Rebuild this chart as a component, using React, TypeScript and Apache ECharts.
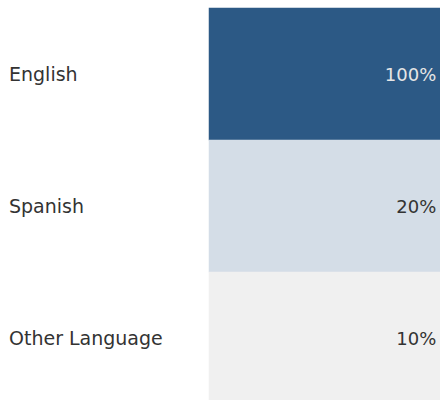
import React, { useEffect, useRef } from "react";
import * as echarts from "echarts";

const languages = ["English", "Spanish", "Other Language"];
const shares = [100, 20, 10];
const cellColors = ["#2c5985", "#d4dde7", "#f0f0f0"];
const labelColors = ["#e6e6e6", "#333333", "#333333"];

export default function App() {
  const ref = useRef<HTMLDivElement>(null);
  useEffect(() => {
    const chart = echarts.init(ref.current!, null, { renderer: "svg" });
    const font = "DejaVu Sans";
    chart.setOption({
      animation: false,
      grid: {
        left: 209,
        right: 0,
        top: 8,
        height: 396,
        outerBoundsMode: "none",
        containLabel: false,
      },
      xAxis: {
        type: "category",
        data: ["Share"],
        show: false,
      },
      yAxis: {
        type: "category",
        data: languages,
        inverse: true,
        axisLine: { show: false },
        axisTick: { show: false },
        splitLine: { show: false },
        axisLabel: {
          align: "left",
          margin: 200,
          fontFamily: font,
          fontSize: 19,
          color: "#333333",
        },
      },
      visualMap: {
        type: "piecewise",
        show: false,
        dimension: 2,
        pieces: shares.map((v, i) => ({ value: v, color: cellColors[i] })),
      },
      series: [
        {
          type: "heatmap",
          data: shares.map((v, i) => ({
            value: [0, i, v],
            label: { color: labelColors[i] },
          })),
          label: {
            show: true,
            position: "insideRight",
            distance: 4,
            fontFamily: font,
            fontSize: 18,
            formatter: (p: any) => p.value[2] + "%",
          },
          emphasis: { disabled: true },
        },
      ],
    });
    return () => chart.dispose();
  }, []);
  return (
    <div
      ref={ref}
      style={{ position: "absolute", left: 0, top: 0, width: 440, height: 400 }}
    />
  );
}
